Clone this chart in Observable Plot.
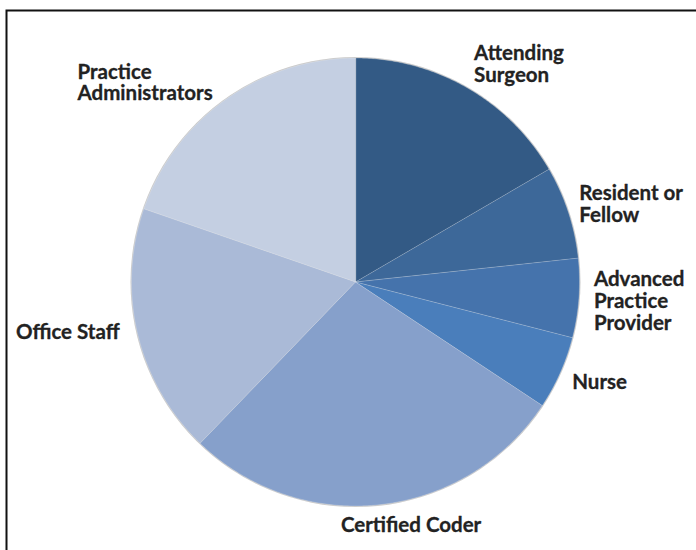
<!DOCTYPE html>
<html>
<head>
<meta charset="utf-8">
<script src="https://cdn.jsdelivr.net/npm/d3@7"></script>
<script src="https://cdn.jsdelivr.net/npm/@observablehq/plot@0.6"></script>
<style>
  html, body { margin: 0; padding: 0; background: #fff; }
  svg { display: block; }
</style>
</head>
<body>
<div id="chart"></div>
<script>
// ---- data ----
const categories = ["Attending Surgeon", "Resident or Fellow", "Advanced Practice Provider", "Nurse", "Certified Coder", "Office Staff", "Practice Administrators"];
const shares = [16.6, 6.7, 5.7, 5.3, 27.9, 18.1, 19.7];
const labelTexts = ["Attending\nSurgeon", "Resident or\nFellow", "Advanced\nPractice\nProvider", "Nurse", "Certified Coder", "Office Staff", "Practice\nAdministrators"];
const sliceColors = ["#335a85", "#3d6899", "#4573ac", "#4a7ebb", "#86a0cb", "#aabad7", "#c4cfe2"];

// ---- layout (not data) ----
const W = 696, H = 550;
const cx = 355, cy = 281.5, R = 224;
const labelLayout = [
  {anchor: "start", dx: 7, dy: -24},
  {anchor: "start", dx: 11, dy: -8},
  {anchor: "start", dx: 15, dy: 3},
  {anchor: "start", dx: 12, dy: 9},
  {anchor: "middle", dx: 31, dy: 20},
  {anchor: "end", dx: -18, dy: -2},
  {anchor: "start", dx: -148, dy: -17}
];

// ---- geometry from the pie layout ----
const arcs = d3.pie().sort(null).value(d => d)(shares);
const slicePts = [];
arcs.forEach((a, i) => {
  const cat = categories[i];
  slicePts.push({cat, x: 0, y: 0});
  const n = Math.max(8, Math.ceil((a.endAngle - a.startAngle) / (Math.PI / 360)));
  for (let k = 0; k <= n; k++) {
    const t = a.startAngle + (a.endAngle - a.startAngle) * k / n;
    slicePts.push({cat, x: Math.sin(t), y: -Math.cos(t)});
  }
});
const labelData = arcs.map((a, i) => {
  const m = (a.startAngle + a.endAngle) / 2;
  return {cat: categories[i], text: labelTexts[i], x: Math.sin(m), y: -Math.cos(m)};
});

const textMarks = labelData.map((d, i) => Plot.text([d], {
  x: "x", y: "y", text: "text",
  textAnchor: labelLayout[i].anchor,
  lineAnchor: "middle",
  dx: labelLayout[i].dx, dy: labelLayout[i].dy,
  fontFamily: "Lato", fontWeight: "bold", fontSize: 20.5,
  lineHeight: 1.06,
  fill: "#222",
  stroke: "#222", strokeWidth: 0.3
}));

const chart = Plot.plot({
  width: W, height: H,
  margin: 0,
  style: {background: "#fff", overflow: "hidden"},
  x: {domain: [-cx / R, (W - cx) / R], range: [0, W], axis: null},
  y: {domain: [-cy / R, (H - cy) / R], range: [0, H], axis: null},
  color: {domain: categories, range: sliceColors},
  marks: [
    Plot.frame({stroke: "#111", strokeWidth: 2, insetLeft: 6, insetTop: 10, insetRight: -20, insetBottom: -20}),
    Plot.dot([{x: 0, y: 0}], {x: "x", y: "y", r: R + 1, fill: "#000", fillOpacity: 0.22, stroke: "none", ariaLabel: "shadow"}),
    Plot.line(slicePts, {x: "x", y: "y", z: "cat", fill: "cat", curve: "linear-closed",
      stroke: "#ffffff", strokeOpacity: 0.3, strokeWidth: 0.7}),
    ...textMarks
  ]
});
document.getElementById("chart").appendChild(chart);
d3.select(chart).selectAll('g[aria-label="shadow"]').style("filter", "blur(3px)");
</script>
</body>
</html>
